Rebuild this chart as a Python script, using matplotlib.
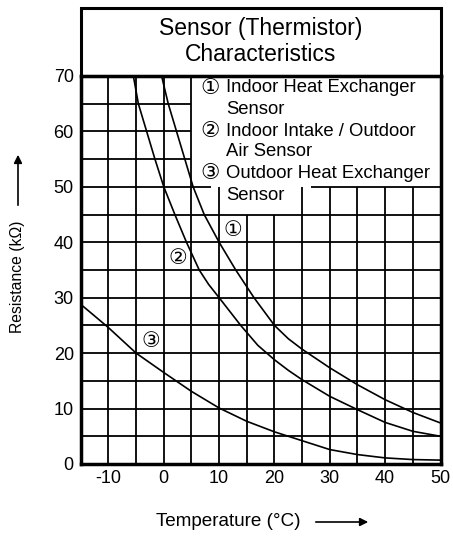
import matplotlib
matplotlib.use("Agg")
import matplotlib.pyplot as plt
from matplotlib.patches import Rectangle, FancyArrowPatch

plt.rcParams['font.family'] = ['Liberation Sans', 'DejaVu Sans']
plt.rcParams['axes.unicode_minus'] = False

# Curve data (temperature °C, resistance kΩ)
t1 = [-0.4, 0.8, 2.3, 3.8, 5.3, 7.3, 10.0, 13.0, 16.3, 20, 22.5, 25, 30, 35, 40, 45, 50]
r1 = [70, 65, 60, 55, 50, 45, 40, 35, 30, 25, 22.6, 20.7, 17.35, 14.3, 11.6, 9.3, 7.4]
t2 = [-5.5, -4.6, -3.1, -1.6, 0.0, 2.0, 4.1, 6.4, 8.1, 10, 13.9, 17, 20, 22.5, 25, 30, 35, 40, 45, 50]
r2 = [70, 65, 60, 55, 50, 45, 40, 35, 32.4, 30, 25, 21.4, 18.8, 16.9, 15.2, 12.2, 9.8, 7.5, 5.9, 5.0]
t3 = [-15, -10, -5, 0, 5, 10, 15, 20, 22.5, 25, 30, 35, 40, 45, 50]
r3 = [28.8, 24.6, 20, 16.5, 13.1, 10.1, 7.7, 5.8, 5.0, 4.2, 2.6, 1.7, 1.1, 0.8, 0.7]

xticks = [-10, 0, 10, 20, 30, 40, 50]
yticks = [0, 10, 20, 30, 40, 50, 60, 70]
legend_marks = ["\u2460", "", "\u2461", "", "\u2462", ""]
legend_lines = ["Indoor Heat Exchanger", "Sensor",
                "Indoor Intake / Outdoor", "Air Sensor",
                "Outdoor Heat Exchanger", "Sensor"]
title_lines = ["Sensor (Thermistor)", "Characteristics"]

W, H = 453, 538
fig = plt.figure(figsize=(W / 100, H / 100), dpi=100)
ax = fig.add_axes([80.8 / W, 1 - 464 / H, (440.5 - 80.8) / W, (464 - 76) / H])
ax.set_xlim(-15, 50)
ax.set_ylim(0, 70)

gl = dict(color='black', lw=1.3, zorder=1, solid_capstyle='butt')
# vertical grid
for x in range(-10, 50, 5):
    if x <= 5:
        ax.plot([x, x], [0, 70], **gl)
    elif x in (15, 20):
        ax.plot([x, x], [0, 45], **gl)
    else:
        ax.plot([x, x], [0, 50], **gl)
# horizontal grid
for y in range(5, 70, 5):
    if y > 50:
        ax.plot([-15, 5], [y, y], **gl)
    elif y == 50:
        ax.plot([-15, 8.6], [y, y], **gl)
        ax.plot([26.6, 50], [y, y], **gl)
    else:
        ax.plot([-15, 50], [y, y], **gl)

cl = dict(color='black', lw=1.2, zorder=3)
ax.plot(t1, r1, **cl)
ax.plot(t2, r2, **cl)
ax.plot(t3, r3, **cl)

lab = dict(fontsize=15, ha='center', va='center', zorder=4,
           family=['DejaVu Sans'])
ax.text(12.4, 42.3, "\u2460", **lab)
ax.text(2.5, 37.2, "\u2461", **lab)
ax.text(-2.4, 22.2, "\u2462", **lab)

# legend text
ys = [88, 110, 131, 152, 173, 195]
for m, s, yp in zip(legend_marks, legend_lines, ys):
    if m:
        fig.text(210 / W, 1 - yp / H, m, fontsize=15.5, ha='center', va='center',
                 family=['DejaVu Sans'])
    fig.text(226 / W, 1 - yp / H, s, fontsize=13.3, ha='left', va='center')

ax.set_xticks(xticks)
ax.set_yticks(yticks)
ax.tick_params(length=0, labelsize=13)
ax.tick_params(axis='y', pad=5)
ax.tick_params(axis='x', pad=4)
for sp in ax.spines.values():
    sp.set_linewidth(2.5)

# title box
fig.add_artist(Rectangle((80.8 / W, 1 - 76 / H), (440.5 - 80.8) / W, (76 - 8) / H,
                         transform=fig.transFigure, fill=False, lw=2.2,
                         edgecolor='black'))
fig.text(261 / W, 1 - 29 / H, title_lines[0], fontsize=16.5, ha='center', va='center')
fig.text(261 / W, 1 - 55 / H, title_lines[1], fontsize=16.5, ha='center', va='center')

# axis labels with arrows
fig.text(18 / W, 1 - 277 / H, "Resistance (k\u03a9)", rotation=90, fontsize=11.3,
         ha='center', va='center')
fig.add_artist(FancyArrowPatch((18 / W, 1 - 208 / H), (18 / W, 1 - 152 / H),
                               transform=fig.transFigure, arrowstyle='-|>',
                               mutation_scale=12, lw=1.2, color='black'))
fig.text(228.5 / W, 1 - 522 / H, "Temperature (\u00b0C)", fontsize=13.6,
         ha='center', va='center')
fig.add_artist(FancyArrowPatch((313 / W, 1 - 522 / H), (371 / W, 1 - 522 / H),
                               transform=fig.transFigure, arrowstyle='-|>',
                               mutation_scale=12, lw=1.2, color='black'))

fig.savefig("out.png", dpi=100)
